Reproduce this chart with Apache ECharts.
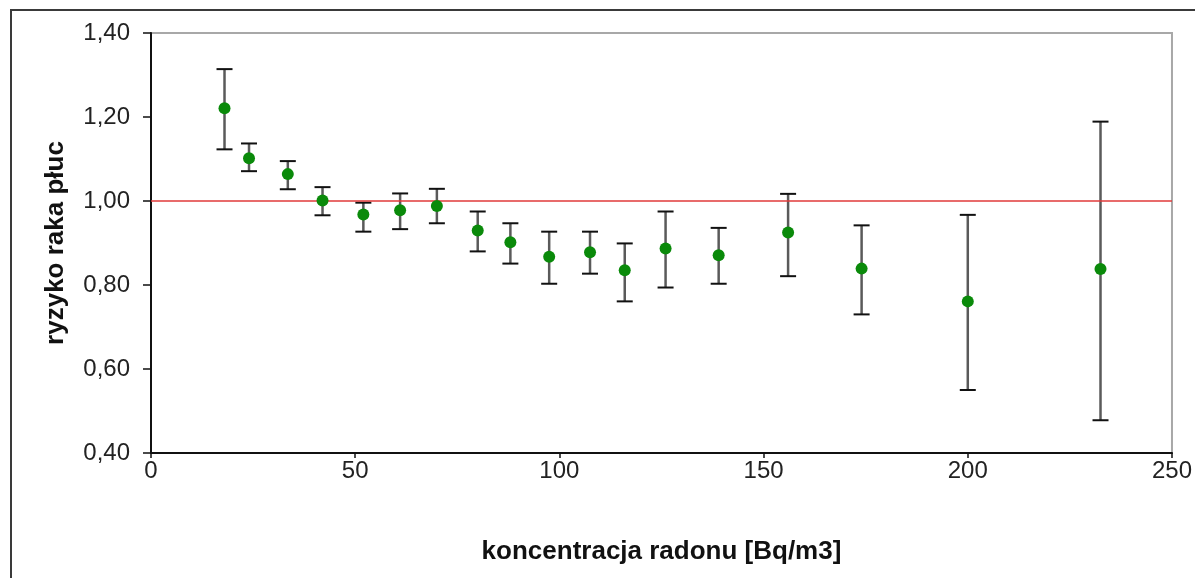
<!DOCTYPE html>
<html>
<head>
<meta charset="utf-8">
<script src="https://cdn.jsdelivr.net/npm/echarts@6/dist/echarts.min.js"></script>
<style>
html,body{margin:0;padding:0;background:#fff;}
#chart{width:1195px;height:578px;}
</style>
</head>
<body>
<div id="chart"></div>
<script>
// Radon concentration [Bq/m3]
const radon = [18, 24, 33.5, 42, 52, 61, 70, 80, 88, 97.5, 107.5, 116, 126, 139, 156, 174, 200, 232.5];
// Relative lung cancer risk
const risk  = [1.221, 1.102, 1.064, 1.001, 0.968, 0.978, 0.988, 0.930, 0.902, 0.867, 0.878, 0.835, 0.887, 0.871, 0.925, 0.839, 0.761, 0.838];
const lower = [1.123, 1.071, 1.028, 0.966, 0.927, 0.933, 0.947, 0.880, 0.851, 0.803, 0.827, 0.761, 0.794, 0.803, 0.821, 0.730, 0.550, 0.478];
const upper = [1.314, 1.137, 1.095, 1.033, 0.996, 1.018, 1.029, 0.975, 0.947, 0.927, 0.927, 0.899, 0.975, 0.936, 1.017, 0.942, 0.967, 1.189];
const referenceLevel = 1.0;
const xTicks = [0, 50, 100, 150, 200, 250];
const yTicks = [0.40, 0.60, 0.80, 1.00, 1.20, 1.40];

const points = radon.map((x, i) => [x, risk[i]]);
const bars = radon.map((x, i) => [x, lower[i], upper[i]]);

const chart = echarts.init(document.getElementById('chart'), null, {renderer: 'canvas'});
const FONT = '"Liberation Sans", Arial, sans-serif';

chart.setOption({
  backgroundColor: '#ffffff',
  animation: false,
  graphic: [{
    type: 'rect', z: -10, silent: true,
    shape: {x: 11, y: 10, width: 1260, height: 700},
    style: {fill: '#ffffff', stroke: '#3a3a3a', lineWidth: 2}
  }],
  grid: {
    left: 151, right: 19, top: 33, bottom: 125,
    show: true, borderColor: '#a8a8a8', borderWidth: 2, backgroundColor: 'transparent'
  },
  xAxis: {
    type: 'value', min: xTicks[0], max: xTicks[xTicks.length - 1], interval: 50,
    name: 'koncentracja radonu [Bq/m3]', nameLocation: 'middle', nameGap: 86,
    nameTextStyle: {fontFamily: FONT, fontSize: 26, fontWeight: 'bold', color: '#111'},
    axisLine: {show: true, onZero: false, lineStyle: {color: '#111', width: 2}},
    axisTick: {show: true, inside: false, length: 5, lineStyle: {color: '#111', width: 1.5}},
    axisLabel: {fontFamily: FONT, fontSize: 24, color: '#222', margin: 6},
    splitLine: {show: false}
  },
  yAxis: {
    type: 'value', min: yTicks[0], max: yTicks[yTicks.length - 1], interval: 0.2,
    name: 'ryzyko raka płuc', nameLocation: 'middle', nameGap: 82, nameRotate: 90,
    nameTextStyle: {fontFamily: FONT, fontSize: 26, fontWeight: 'bold', color: '#111'},
    axisLine: {show: true, onZero: false, lineStyle: {color: '#111', width: 2}},
    axisTick: {show: true, inside: false, length: 8, lineStyle: {color: '#111', width: 1.5}},
    axisLabel: {fontFamily: FONT, fontSize: 24, color: '#222', margin: 21,
      formatter: v => v.toFixed(2).replace('.', ',')},
    splitLine: {show: false}
  },
  series: [
    {
      type: 'line', data: [], silent: true, z: 1,
      markLine: {
        silent: true, symbol: 'none', label: {show: false},
        lineStyle: {color: '#e03a3a', width: 1.5, type: 'solid'},
        data: [{yAxis: referenceLevel}]
      }
    },
    {
      type: 'custom', z: 3, silent: true,
      data: bars,
      renderItem: function (params, api) {
        const x = api.value(0);
        const lo = api.coord([x, api.value(1)]);
        const hi = api.coord([x, api.value(2)]);
        const cap = 8;
        return {
          type: 'group',
          children: [
            {type: 'line', shape: {x1: lo[0], y1: lo[1], x2: hi[0], y2: hi[1]},
             style: {stroke: '#5a5a5a', lineWidth: 2.5}},
            {type: 'line', shape: {x1: lo[0] - cap, y1: lo[1], x2: lo[0] + cap, y2: lo[1]},
             style: {stroke: '#111111', lineWidth: 2}},
            {type: 'line', shape: {x1: hi[0] - cap, y1: hi[1], x2: hi[0] + cap, y2: hi[1]},
             style: {stroke: '#111111', lineWidth: 2}}
          ]
        };
      }
    },
    {
      type: 'scatter', z: 5, silent: true,
      data: points, symbol: 'circle', symbolSize: 12,
      itemStyle: {color: '#0a8a0a', opacity: 1}
    }
  ]
});
</script>
</body>
</html>
